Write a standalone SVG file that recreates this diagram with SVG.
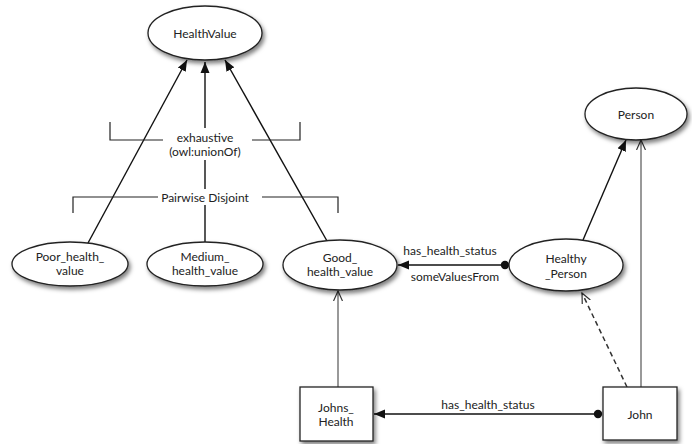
<svg xmlns="http://www.w3.org/2000/svg" width="692" height="444" viewBox="0 0 692 444">
<style>
  .node { fill: #fff; stroke: #222; stroke-width: 1.3; filter: url(#sh); }
  .lbl { font-family: "Lato", "Liberation Sans", sans-serif; font-size: 12px; fill: #222; text-anchor: middle; dominant-baseline: central; }
  .edge { stroke: #111; stroke-width: 1.4; fill: none; }
  .inst { stroke: #555; stroke-width: 1.2; fill: none; }
  .dash { stroke: #333; stroke-width: 1.5; fill: none; stroke-dasharray: 5,3.5; }
  .brk { stroke: #222; stroke-width: 1.2; fill: none; }
</style>
<defs>
  <filter id="sh" x="-20%" y="-20%" width="150%" height="160%">
    <feDropShadow dx="2" dy="3" stdDeviation="2.2" flood-color="#000" flood-opacity="0.5"/>
  </filter>
  <marker id="fill" markerUnits="userSpaceOnUse" markerWidth="12" markerHeight="10" refX="11" refY="5" orient="auto">
    <path d="M0,0.5 L11,5 L0,9.5 z" fill="#111"/>
  </marker>
  <marker id="open" markerUnits="userSpaceOnUse" markerWidth="12" markerHeight="10" refX="10" refY="5" orient="auto">
    <path d="M0,0.5 L10,5 L0,9.5" fill="none" stroke="#333" stroke-width="1.2"/>
  </marker>
  <marker id="dot" markerUnits="userSpaceOnUse" markerWidth="10" markerHeight="10" refX="5" refY="5" orient="auto">
    <circle cx="5" cy="5" r="4.2" fill="#111"/>
  </marker>
</defs>
<rect width="692" height="444" fill="#fff"/>

<g id="connectors">
  <line class="edge" x1="88" y1="243" x2="187" y2="60" marker-end="url(#fill)"/>
  <line class="edge" x1="205" y1="242" x2="205" y2="62" marker-end="url(#fill)"/>
  <line class="edge" x1="327" y1="241" x2="225" y2="60" marker-end="url(#fill)"/>
  <line class="edge" x1="583" y1="240" x2="626" y2="140" marker-end="url(#fill)"/>
  <line class="edge" x1="505" y1="265" x2="398" y2="265" marker-start="url(#dot)" marker-end="url(#fill)"/>
  <line class="edge" x1="598" y1="414" x2="374" y2="414" marker-start="url(#dot)" marker-end="url(#fill)"/>
  <line class="inst" x1="641" y1="387" x2="641" y2="140" marker-end="url(#open)"/>
  <line class="inst" x1="338" y1="387" x2="338" y2="291" marker-end="url(#open)"/>
  <line class="dash" x1="627" y1="387" x2="582" y2="293" marker-end="url(#open)"/>
</g>

<g id="exhaustive">
  <path class="brk" d="M110,122 V140 H163 M252,140 H300 V122"/>
  <rect x="165" y="128" width="84" height="32" fill="#fff"/>
  <text class="lbl" x="205" y="137">exhaustive</text>
  <text class="lbl" x="205" y="151">(owl:unionOf)</text>
</g>

<g id="disjoint">
  <path class="brk" d="M73,213 V197 H158 M262,197 H338 V213"/>
  <rect x="160" y="189" width="100" height="16" fill="#fff"/>
  <text class="lbl" x="205" y="197">Pairwise Disjoint</text>
</g>

<g id="HealthValue">
  <ellipse class="node" cx="205" cy="33" rx="57" ry="27"/>
  <text class="lbl" x="205" y="33">HealthValue</text>
</g>

<g id="Poor_health_value">
  <ellipse class="node" cx="70" cy="264" rx="58" ry="22"/>
  <text class="lbl" x="70" y="256">Poor_health_</text>
  <text class="lbl" x="70" y="270">value</text>
</g>

<g id="Medium_health_value">
  <ellipse class="node" cx="205" cy="264" rx="58" ry="22"/>
  <text class="lbl" x="205" y="256">Medium_</text>
  <text class="lbl" x="205" y="270">health_value</text>
</g>

<g id="Good_health_value">
  <ellipse class="node" cx="340" cy="265" rx="57" ry="25"/>
  <text class="lbl" x="340" y="257">Good_</text>
  <text class="lbl" x="340" y="271">health_value</text>
</g>

<g id="Healthy_Person">
  <ellipse class="node" cx="566" cy="265" rx="57" ry="26"/>
  <text class="lbl" x="566" y="258">Healthy</text>
  <text class="lbl" x="566" y="273">_Person</text>
</g>

<g id="Person">
  <ellipse class="node" cx="636" cy="114" rx="51" ry="26"/>
  <text class="lbl" x="636" y="114">Person</text>
</g>

<g id="Johns_Health">
  <rect class="node" x="300" y="387" width="73" height="54"/>
  <text class="lbl" x="336" y="407">Johns_</text>
  <text class="lbl" x="336" y="421">Health</text>
</g>

<g id="John">
  <rect class="node" x="603" y="387" width="74" height="53"/>
  <text class="lbl" x="640" y="414">John</text>
</g>

<g id="edge-labels">
  <text class="lbl" x="450" y="250">has_health_status</text>
  <text class="lbl" x="455" y="276">someValuesFrom</text>
  <text class="lbl" x="488" y="404">has_health_status</text>
</g>
</svg>
